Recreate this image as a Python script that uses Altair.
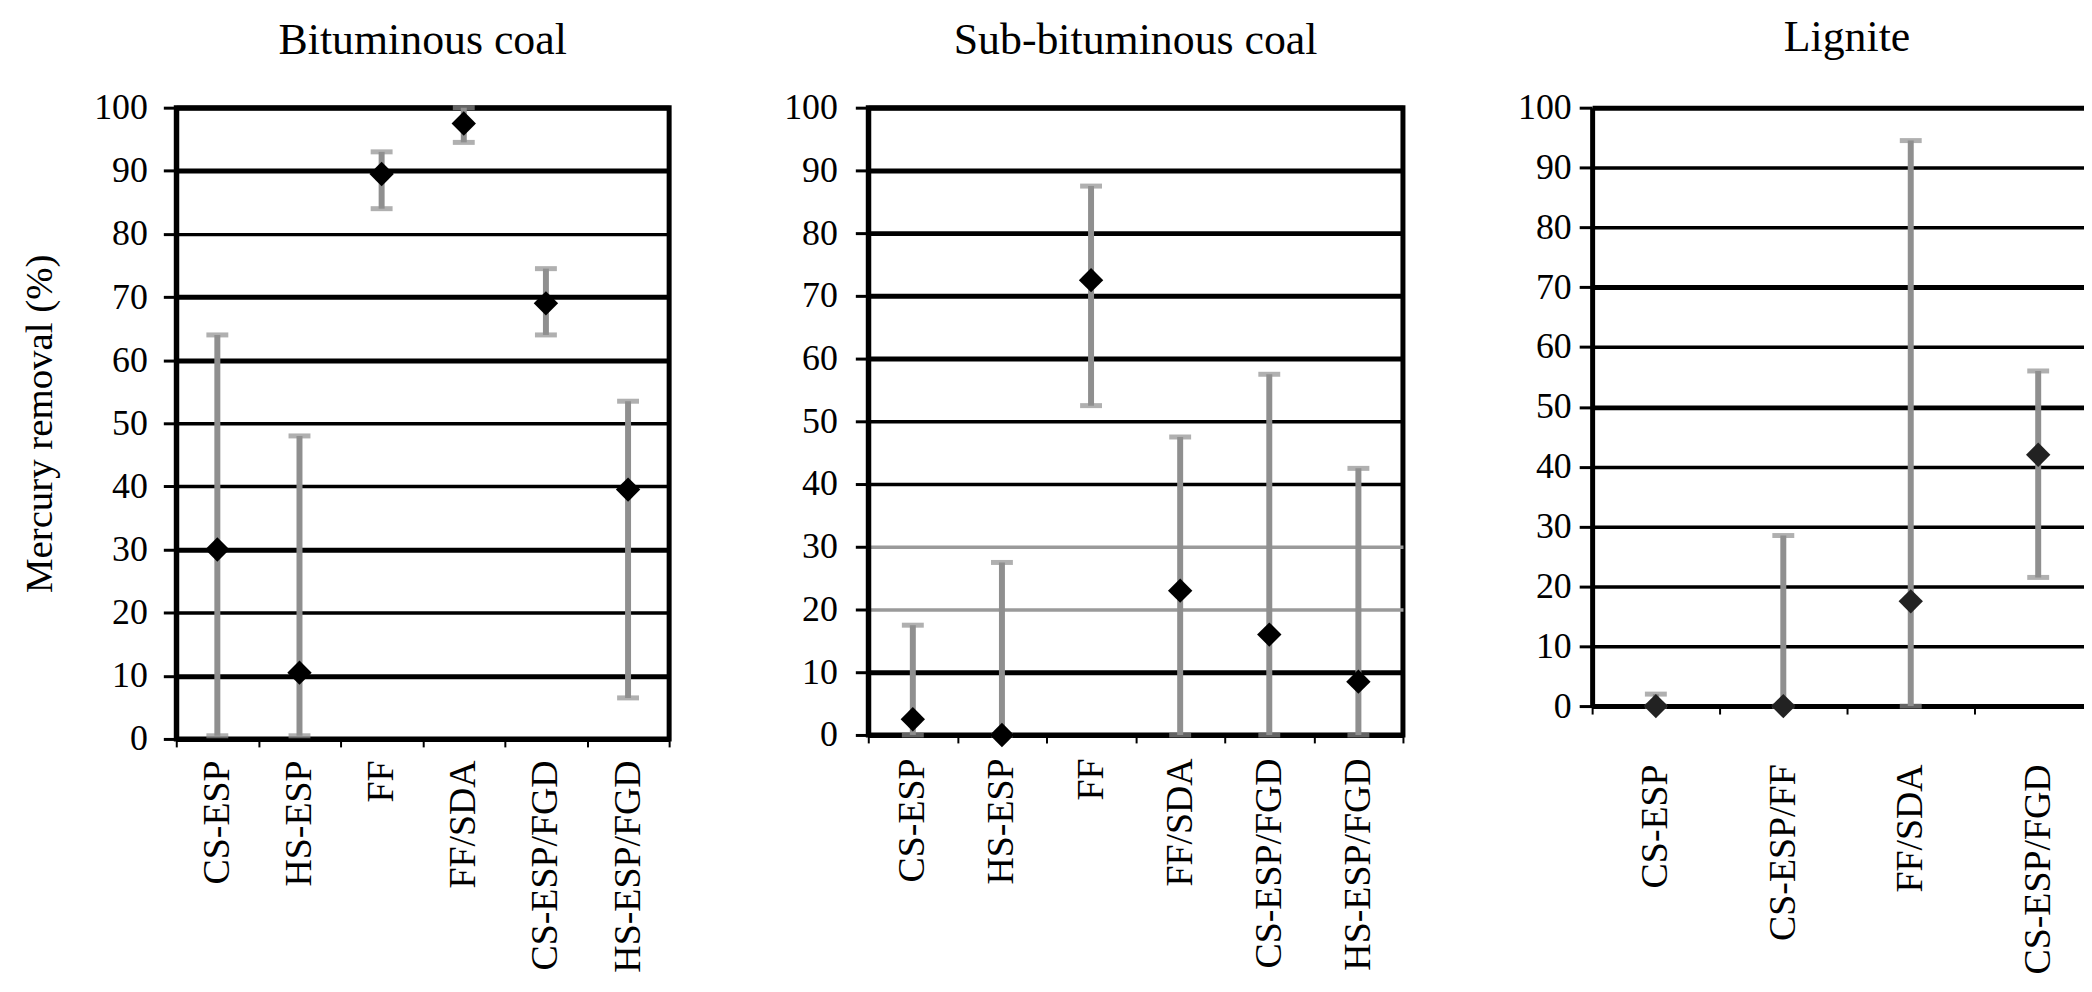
import altair as alt
import pandas as pd

FONT = "Liberation Serif"
GRAY = "#8f8f8f"

# ---- data ----
bit_cats = ["CS-ESP", "HS-ESP", "FF", "FF/SDA", "CS-ESP/FGD", "HS-ESP/FGD"]
bit_mean = [30, 10.5, 89.5, 97.5, 69, 39.5]
bit_low = [0.5, 0.5, 84, 94.5, 64, 6.5]
bit_high = [64, 48, 93, 100, 74.5, 53.5]

sub_cats = ["CS-ESP", "HS-ESP", "FF", "FF/SDA", "CS-ESP/FGD", "HS-ESP/FGD"]
sub_mean = [2.5, 0, 72.5, 23, 16, 8.5]
sub_low = [0, 0, 52.5, 0, 0, 0]
sub_high = [17.5, 27.5, 87.5, 47.5, 57.5, 42.5]

lig_cats = ["CS-ESP", "CS-ESP/FF", "FF/SDA", "CS-ESP/FGD"]
lig_mean = [0, 0, 17.5, 42]
lig_low = [0, 0, 0, 21.5]
lig_high = [2, 28.5, 94.5, 56]

y_ticks = list(range(0, 101, 10))


def panel(cats, mean, low, high, title, width, height, ytitle, ylab_pad,
          xlab_pad, thick, gray, stroke, title_offset, pt_color):
    df = pd.DataFrame({"cat": cats, "mean": mean, "low": low, "high": high})
    thick_expr = "indexof(" + str(thick) + ", datum.value) >= 0"
    gray_expr = "indexof(" + str(gray) + ", datum.value) >= 0"
    yaxis_kw = dict(
        values=y_ticks,
        labelFont=FONT, labelFontSize=36, labelColor="black",
        labelPadding=ylab_pad,
        tickSize=13, tickWidth=3, tickColor="black",
        domainColor="black", domainWidth=5,
        grid=True,
        gridColor={"condition": {"test": gray_expr, "value": "#9a9a9a"},
                   "value": "black"},
        gridWidth={"condition": {"test": thick_expr, "value": 5},
                   "value": 3.5},
        titleFont=FONT, titleFontSize=39, titleFontWeight="normal",
        titleColor="black", titlePadding=34,
    )
    if ytitle:
        yaxis = alt.Axis(title=ytitle, **yaxis_kw)
    else:
        yaxis = alt.Axis(title=None, **yaxis_kw)
    yscale = alt.Scale(domain=[0, 100], nice=False)
    x = alt.X(
        "cat:N", sort=cats,
        scale=alt.Scale(paddingInner=0, paddingOuter=0),
        axis=alt.Axis(
            title=None, labelAngle=-90, labelFont=FONT, labelFontSize=38,
            labelColor="black", labelPadding=xlab_pad, labelLimit=400,
            tickBand="extent", tickSize=8, tickWidth=2, tickColor="black",
            domainColor="black", domainWidth=5, grid=False,
        ),
    )
    base = alt.Chart(df)
    bars = base.mark_rule(color=GRAY, strokeWidth=6).encode(
        x=x,
        y=alt.Y("low:Q", scale=yscale, axis=yaxis),
        y2="high:Q",
    )
    cap_lo = base.mark_tick(color=GRAY, thickness=5, size=22).encode(
        x=x, y=alt.Y("low:Q", scale=yscale, axis=yaxis))
    cap_hi = base.mark_tick(color=GRAY, thickness=5, size=22).encode(
        x=x, y=alt.Y("high:Q", scale=yscale, axis=yaxis))
    pts = base.mark_point(shape="diamond", filled=True, color=pt_color,
                          size=600, opacity=1).encode(
        x=x, y=alt.Y("mean:Q", scale=yscale, axis=yaxis))
    return alt.layer(bars, cap_lo, cap_hi, pts).properties(
        width=width, height=height,
        title=alt.TitleParams(title, font=FONT, fontSize=44,
                              fontWeight="normal", color="black",
                              offset=title_offset, anchor="middle"),
        view=alt.ViewBackground(stroke=stroke, strokeWidth=5, fill="white"),
    )


p1 = panel(bit_cats, bit_mean, bit_low, bit_high, "Bituminous coal",
           495, 634, "Mercury removal (%)", 16, 13,
           [0, 10, 30, 60, 70, 90, 100], [], "black", 27, "black")
p2 = panel(sub_cats, sub_mean, sub_low, sub_high, "Sub-bituminous coal",
           537, 630, None, 18, 15,
           [0, 10, 60, 70, 80, 90, 100], [20, 30], "black", 27, "black")
p3 = panel(lig_cats, lig_mean, lig_low, lig_high, "Lignite",
           512, 601, None, 8, 50,
           [0, 50, 70, 100], [], "transparent", 30, "#222222")

# negative right padding crops the far edge like the scanned original
chart = alt.hconcat(p1, p2, p3, spacing=108).properties(
    padding={"left": 10, "top": 3, "right": -22, "bottom": 0},
    background="white",
)

chart.save("out.html", embed_options={"renderer": "svg", "actions": False})
